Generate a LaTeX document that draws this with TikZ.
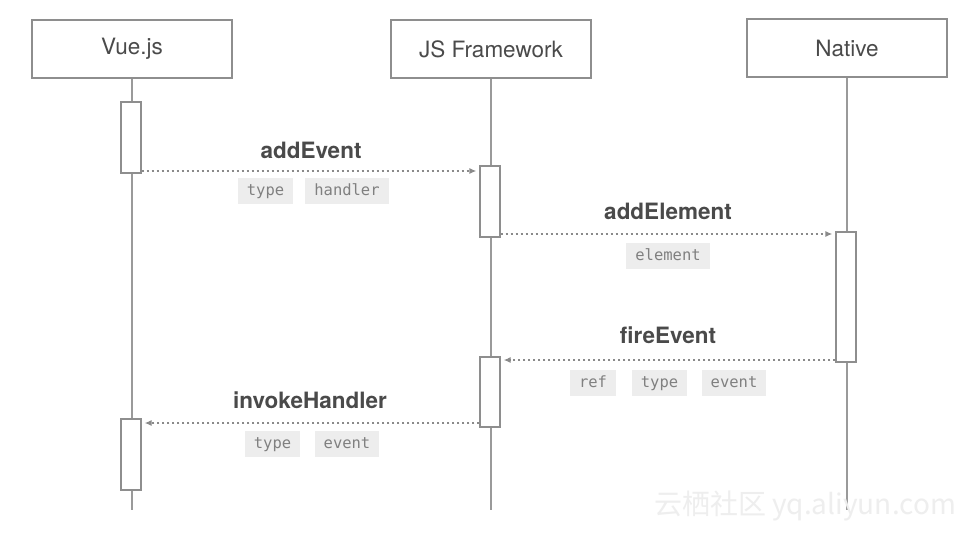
\documentclass[tikz,border=0pt]{standalone}
\usepackage{fontspec}
\setmainfont{TeX Gyre Heros}
\newfontfamily\monof{DejaVu Sans Mono}
\newfontfamily\cjkf{Noto Sans CJK SC}
\usetikzlibrary{arrows.meta}
\definecolor{linec}{HTML}{9A9A9A}
\definecolor{boxc}{HTML}{8E8E8E}
\definecolor{textc}{HTML}{4A4A4A}
\definecolor{tagbg}{HTML}{EDEDED}
\definecolor{tagtext}{HTML}{808080}
\definecolor{msgc}{HTML}{8A8A8A}
\tikzset{
  header/.style={draw=boxc, line width=1.6pt, minimum width=200pt, minimum height=58pt, inner sep=0pt,
    text=textc, font=\fontsize{22.5}{26}\selectfont},
  life/.style={draw=linec, line width=1.5pt},
  act/.style={draw=boxc, line width=1.3pt, fill=white, minimum width=20pt, inner sep=0pt},
  msg/.style={draw=msgc, line width=1.3pt, dash pattern=on 2.5pt off 2.5pt,
    -{Latex[length=7pt,width=6pt]}},
  lbl/.style={text=textc, font=\bfseries\fontsize{22.5}{26}\selectfont, inner sep=0pt},
  tag/.style={fill=tagbg, text=tagtext, font=\monof\fontsize{15.5}{18}\selectfont,
    minimum height=26pt, inner xsep=9pt, inner ysep=0pt, text height=11.5pt, text depth=3pt},
}
\begin{document}
\begin{tikzpicture}[x=1pt,y=-1pt]
\useasboundingbox (0,0) rectangle (977,533);
\fill[white] (0,0) rectangle (977,533);

% headers
\node[header] (vue) at (132,49) {Vue.js};
\node[header] (jsf) at (491,49) {JS Framework};
\node[header] (nat) at (847,48) {Native};

% lifeline ends
\coordinate (vueend) at (132,510);
\coordinate (jsfend) at (491,510);
\coordinate (natend) at (847,510);
\draw[life] (vue.south) -- (vueend);
\draw[life] (jsf.south) -- (jsfend);
\draw[life] (nat.south) -- (natend);

% activation boxes
\node[act, minimum height=71pt] (v1) at (131,137.5) {};
\node[act, minimum height=71pt] (j1) at (490,201.5) {};
\node[act, minimum height=130pt] (n1) at (846,297) {};
\node[act, minimum height=70pt] (j2) at (490,392) {};
\node[act, minimum height=71pt] (v2) at (131,454.5) {};

% messages
\draw[msg, shorten >=3pt] (v1.east |- 0,171) -- (j1.west |- 0,171);
\draw[msg, shorten >=3pt] (j1.east |- 0,234) -- (n1.west |- 0,234);
\draw[msg, shorten >=3pt] (n1.west |- 0,360) -- (j2.east |- 0,360);
\draw[msg, shorten >=3pt] (j2.west |- 0,423) -- (v2.east |- 0,423);

% labels
\node[lbl] (l1) at (311,150) {addEvent};
\node[lbl] (l2) at (668,211) {addElement};
\node[lbl] (l3) at (668,335) {fireEvent};
\node[lbl] (l4) at (310,400) {invokeHandler};

% tags
\node[tag] (t1a) at (265.5,191) {type};
\node[tag] (t1b) at (347,191) {handler};
\node[tag] (t2a) at (668,256) {element};
\node[tag] (t3a) at (593,383) {ref};
\node[tag] (t3b) at (659.5,383) {type};
\node[tag] (t3c) at (734,383) {event};
\node[tag] (t4a) at (272.5,444) {type};
\node[tag] (t4b) at (347,444) {event};

% watermark
\node[text=gray!13, font=\cjkf\fontsize{28}{32}\selectfont, inner sep=0pt] (wm) at (805,506) {云栖社区 yq.aliyun.com};
\end{tikzpicture}
\end{document}
